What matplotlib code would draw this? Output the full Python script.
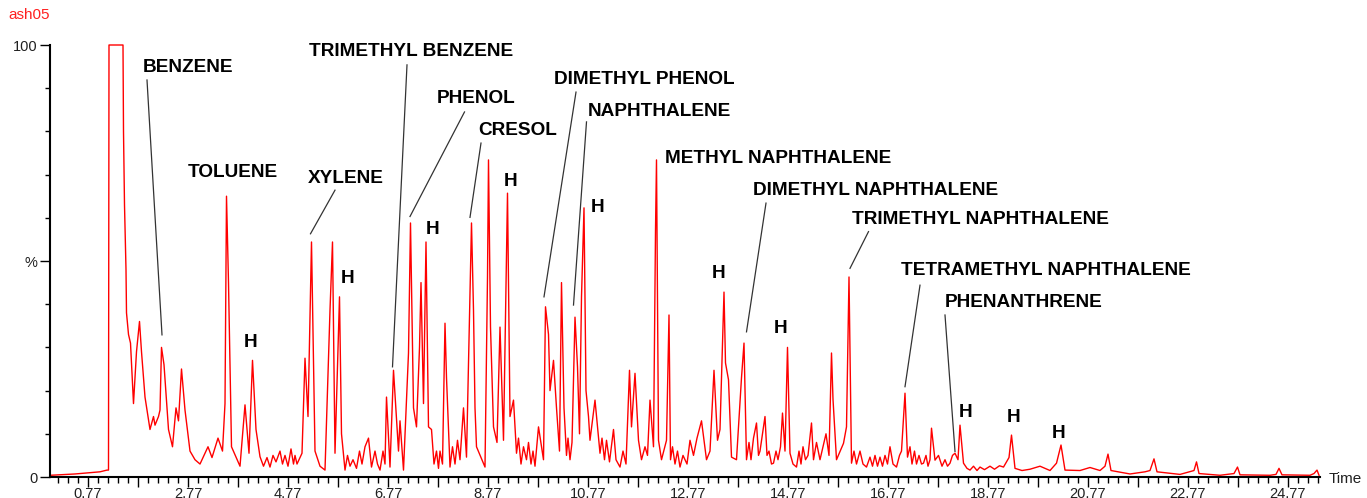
import numpy as np
import matplotlib.pyplot as plt
from matplotlib.ticker import FixedLocator, MultipleLocator

plt.rcParams['font.family'] = ['Liberation Sans', 'DejaVu Sans']

# chromatogram trace: (retention time in min, intensity in %)
trace_early = [
    (0.02, 0.4), (0.51, 0.7), (1.01, 1.2), (1.15, 1.6), (1.18, 1.6), (1.19, 100), (1.47, 100),
    (1.48, 80), (1.50, 63), (1.53, 48), (1.54, 38), (1.58, 33), (1.62, 31), (1.68, 17), (1.74, 29),
    (1.80, 36), (1.84, 29), (1.91, 18.5), (2.01, 11), (2.08, 14), (2.11, 12), (2.18, 14),
    (2.21, 15.5), (2.24, 30), (2.29, 26), (2.38, 11), (2.46, 7), (2.53, 16), (2.58, 13),
    (2.64, 25), (2.71, 15.5), (2.81, 6), (2.91, 4), (3.01, 3), (3.09, 5), (3.17, 7), (3.25, 4.5),
    (3.37, 9), (3.46, 6), (3.51, 17), (3.54, 65), (3.58, 45), (3.64, 7), (3.81, 2.5), (3.91, 16.7),
    (3.99, 5.5), (4.06, 27), (4.13, 11), (4.21, 4.7), (4.28, 2.5), (4.35, 4.5), (4.41, 2.3),
    (4.47, 5), (4.53, 3.5), (4.61, 6), (4.66, 3), (4.71, 5), (4.77, 2.5), (4.83, 6.5), (4.88, 3),
    (4.91, 5), (4.95, 3), (5.05, 5.5), (5.11, 27.5), (5.17, 14), (5.24, 54.4), (5.31, 6),
    (5.41, 2.5), (5.51, 1.6), (5.61, 38.6), (5.66, 54.4), (5.71, 5.5), (5.80, 41.7), (5.84, 10),
    (5.91, 1.6), (5.96, 5), (6.01, 2.5), (6.07, 4), (6.14, 2), (6.20, 6), (6.25, 3), (6.31, 7),
    (6.38, 9), (6.44, 2.3), (6.51, 6), (6.56, 3), (6.61, 1.6), (6.67, 6), (6.71, 3), (6.74, 18.5),
    (6.81, 2.3), (6.88, 24.7), (6.98, 6), (7.01, 13), (7.08, 1.6), (7.18, 28.7), (7.22, 58.8),
    (7.28, 16), (7.34, 11.6), (7.40, 30), (7.43, 45), (7.48, 17), (7.53, 54.4), (7.58, 11.6),
    (7.64, 11), (7.69, 3), (7.74, 6), (7.78, 2), (7.81, 6), (7.86, 3), (7.91, 35.6), (7.94, 23),
    (8.01, 2.3), (8.06, 7), (8.11, 3), (8.16, 8.5), (8.21, 4), (8.28, 16), (8.34, 4.6),
    (8.44, 58.8), (8.48, 38.6), (8.51, 16), (8.54, 7), (8.71, 2.3), (8.76, 46.3), (8.78, 73.4),
    (8.82, 34.7), (8.88, 11.6), (8.95, 8), (9.01, 34.7), (9.08, 8.5), (9.16, 65.7), (9.21, 14),
    (9.28, 17.8), (9.34, 5.5), (9.38, 9), (9.43, 3), (9.48, 7), (9.54, 4), (9.58, 8), (9.63, 3),
    (9.67, 6), (9.71, 2.5), (9.78, 11.6), (9.88, 4),
]
trace_mid = [
    (9.92, 39.4), (9.98, 33), (10.01, 20), (10.08, 27), (10.14, 16), (10.20, 6), (10.24, 45),
    (10.29, 16), (10.34, 5), (10.37, 9), (10.41, 4), (10.45, 8), (10.51, 37), (10.56, 25.5),
    (10.60, 10), (10.64, 41.7), (10.69, 62.3), (10.73, 20), (10.78, 14), (10.81, 8.5),
    (10.91, 17.8), (11.01, 5.5), (11.05, 9), (11.10, 4), (11.14, 8.5), (11.20, 3.5), (11.28, 11),
    (11.33, 4), (11.41, 2.3), (11.47, 6), (11.53, 3), (11.60, 24.7), (11.64, 11.6), (11.71, 24),
    (11.78, 8.5), (11.84, 4), (11.91, 7), (11.96, 5), (12.01, 17.8), (12.08, 7), (12.12, 57),
    (12.14, 73.4), (12.18, 8.5), (12.24, 4), (12.34, 8.5), (12.39, 37.5), (12.42, 4), (12.46, 7),
    (12.51, 3), (12.56, 6), (12.61, 2.3), (12.67, 5), (12.75, 3), (12.81, 8.5), (12.88, 5),
    (12.95, 9), (13.04, 13), (13.14, 4), (13.21, 6), (13.29, 24.7), (13.36, 8.5), (13.41, 11),
    (13.49, 42.8), (13.52, 26.4), (13.58, 22.5), (13.64, 4.6), (13.74, 4), (13.84, 23),
    (13.89, 31), (13.94, 4), (13.99, 8), (14.03, 4), (14.08, 9), (14.14, 12.5), (14.18, 5),
    (14.21, 6), (14.26, 10), (14.31, 14), (14.35, 5), (14.39, 6), (14.44, 3), (14.48, 3.2),
    (14.53, 6), (14.57, 4), (14.62, 7), (14.66, 14.8), (14.71, 6), (14.76, 30), (14.81, 5.5),
    (14.87, 3), (14.94, 2.3), (14.99, 6), (15.03, 3), (15.07, 7), (15.12, 4), (15.17, 5),
    (15.24, 12.5), (15.28, 4), (15.34, 8), (15.41, 4), (15.47, 7), (15.53, 10), (15.59, 5),
    (15.64, 28.7), (15.67, 18), (15.74, 4), (15.88, 7.8), (15.94, 11.6), (15.99, 46.3),
]
trace_late = [
    (16.04, 3.2), (16.09, 6), (16.14, 3), (16.21, 6), (16.27, 3), (16.34, 2.3), (16.41, 4.6),
    (16.46, 2.5), (16.51, 5), (16.56, 2.5), (16.61, 4.6), (16.66, 2.5), (16.71, 5), (16.76, 3),
    (16.81, 7), (16.87, 3), (16.94, 2.3), (17.00, 5), (17.04, 6), (17.11, 19.4), (17.16, 4.6),
    (17.21, 7), (17.25, 3), (17.30, 6), (17.34, 3), (17.39, 5), (17.44, 3), (17.48, 3.2),
    (17.53, 5), (17.57, 2.5), (17.61, 4), (17.64, 11.3), (17.71, 3.9), (17.78, 5), (17.85, 2.5),
    (17.91, 4), (17.96, 2.5), (18.01, 3.2), (18.06, 5), (18.11, 5.5), (18.17, 4), (18.21, 12),
    (18.28, 3.2), (18.35, 2), (18.41, 1.6), (18.48, 2.5), (18.55, 1.5), (18.61, 2.3), (18.70, 1.7),
    (18.81, 2.5), (18.90, 1.8), (19.00, 2.6), (19.08, 2.3), (19.19, 4.5), (19.24, 9.7), (19.31, 2),
    (19.45, 1.5), (19.61, 1.8), (19.81, 2.5), (20.01, 1.5), (20.14, 3.2), (20.23, 7.4),
    (20.31, 1.6), (20.61, 1.5), (20.81, 2.2), (21.01, 1.5), (21.11, 2.5), (21.17, 5.3),
    (21.23, 1.5), (21.61, 0.7), (21.91, 1.2), (22.01, 1.5), (22.09, 4.2), (22.15, 1.2),
    (22.61, 0.6), (22.89, 1.5), (22.94, 3.5), (22.99, 0.8), (23.41, 0.4), (23.69, 0.8),
    (23.76, 2.3), (23.81, 0.5), (24.41, 0.4), (24.53, 0.6), (24.59, 2), (24.65, 0.5),
    (25.21, 0.4), (25.29, 0.8), (25.35, 1.6), (25.39, 0.4),
]

# compound labels: text position (left, middle) and leader line (top -> peak)
names = ['BENZENE', 'TOLUENE', 'XYLENE', 'TRIMETHYL BENZENE', 'PHENOL', 'CRESOL',
         'DIMETHYL PHENOL', 'NAPHTHALENE', 'METHYL NAPHTHALENE', 'DIMETHYL NAPHTHALENE',
         'TRIMETHYL NAPHTHALENE', 'TETRAMETHYL NAPHTHALENE', 'PHENANTHRENE']
name_x = [1.87, 2.77, 5.17, 5.19, 7.75, 8.57, 10.09, 10.77, 12.31, 14.07, 16.05, 17.03, 17.91]
name_y = [94.7, 70.4, 69.0, 98.4, 87.7, 80.3, 91.9, 84.5, 73.8, 66.4, 59.7, 47.9, 40.5]

leader_x0 = [1.95, 5.71, 7.15, 8.30, 8.63, 10.53, 10.74, 14.33, 16.38, 17.41, 17.91]
leader_y0 = [91.9, 66.4, 95.4, 84.5, 77.3, 89.1, 82.2, 63.4, 56.8, 44.4, 37.5]
leader_x1 = [2.25, 5.22, 6.86, 7.21, 8.41, 9.89, 10.48, 13.94, 16.01, 17.11, 18.11]
leader_y1 = [32.9, 56.3, 25.5, 60.3, 60.1, 41.7, 39.8, 33.6, 48.3, 20.9, 5.9]

# "H" markers
h_x = [4.03, 5.97, 7.67, 9.23, 10.97, 13.39, 14.63, 18.33, 19.29, 20.19]
h_y = [31.25, 46, 57.2, 68.3, 62.5, 47.2, 34.3, 15, 13.7, 10]

time, intensity = zip(*(trace_early + trace_mid + trace_late))

fig = plt.figure(figsize=(13.67, 4.98), dpi=100)
ax = fig.add_axes([50/1367, 21/498, 1270/1367, 432/498])

ax.plot(time, intensity, color='#ff0000', lw=1.0, clip_on=False)

for x0, y0, x1, y1 in zip(leader_x0, leader_y0, leader_x1, leader_y1):
    ax.plot([x0, x1], [y0, y1], color='#333333', lw=0.9)

for n, x, y in zip(names, name_x, name_y):
    ax.text(x, y, n, fontsize=13.7, fontweight='bold', ha='left', va='center', color='black')

for x, y in zip(h_x, h_y):
    ax.text(x, y, 'H', fontsize=13.7, fontweight='bold', ha='center', va='center', color='black')

ax.set_xlim(0.01, 25.41)
ax.set_ylim(0, 100)

major = np.arange(0.77, 25.4, 1.0)
ax.xaxis.set_major_locator(FixedLocator(major))
ax.set_xticklabels(['%.2f' % v if i % 2 == 0 else '' for i, v in enumerate(major)])
ax.xaxis.set_minor_locator(FixedLocator(np.arange(0.17, 25.4, 0.2)))
ax.set_yticks([0, 50, 100])
ax.set_yticklabels(['0', '%', '100'])
ax.yaxis.set_minor_locator(MultipleLocator(10))

ax.tick_params(axis='x', which='major', direction='out', length=7, width=1, pad=0,
               labelsize=10.5, labelcolor='#202020')
ax.tick_params(axis='x', which='minor', direction='out', length=4, width=1)
ax.tick_params(axis='y', which='major', direction='out', length=7, width=1, pad=2,
               labelsize=10.5, labelcolor='#202020')
ax.tick_params(axis='y', which='minor', direction='out', length=3.5, width=1)

ax.spines['top'].set_visible(False)
ax.spines['right'].set_visible(False)
ax.spines['left'].set_linewidth(1.5)
ax.spines['bottom'].set_linewidth(1.5)

fig.text(8/1367, 1 - 15/498, 'ash05', color='#ff2020', fontsize=11, va='center', ha='left')
fig.text(1329/1367, 1 - 479/498, 'Time', color='#202020', fontsize=11, va='center', ha='left')

fig.savefig('out.png', dpi=100)
